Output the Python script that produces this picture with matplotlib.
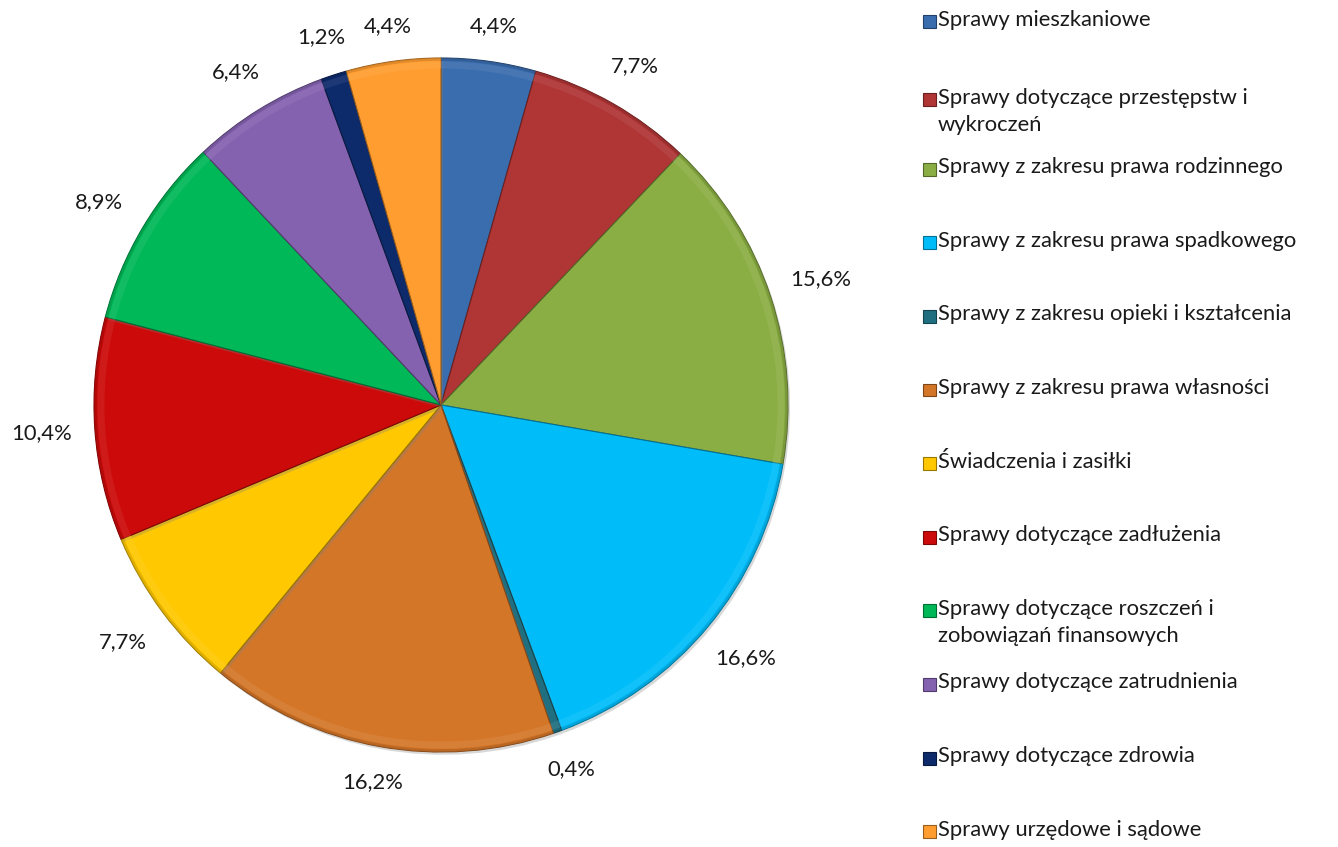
"""Pie chart of advice case categories with an Excel-style legend."""

import matplotlib

matplotlib.use("Agg")
import matplotlib.pyplot as plt
import matplotlib.patheffects as pe
import numpy as np
from matplotlib.colors import to_rgb
from matplotlib.patches import Rectangle, Wedge

CATEGORIES = [
    "Sprawy mieszkaniowe",
    "Sprawy dotyczące przestępstw i\nwykroczeń",
    "Sprawy z zakresu prawa rodzinnego",
    "Sprawy z zakresu prawa spadkowego",
    "Sprawy z zakresu opieki i kształcenia",
    "Sprawy z zakresu prawa własności",
    "Świadczenia i zasiłki",
    "Sprawy dotyczące zadłużenia",
    "Sprawy dotyczące roszczeń i\nzobowiązań finansowych",
    "Sprawy dotyczące zatrudnienia",
    "Sprawy dotyczące zdrowia",
    "Sprawy urzędowe i sądowe",
]
SHARES = [4.4, 7.7, 15.6, 16.6, 0.4, 16.2, 7.7, 10.4, 8.9, 6.4, 1.2, 4.4]
COLORS = [
    "#3A6DAE", "#B03535", "#8BAE44", "#00BDF9", "#1F6F80", "#D47628",
    "#FFC800", "#CC0A0A", "#00B857", "#8562B0", "#0D2A6B", "#FF9D30",
]

FONT = "Lato"
FONT_SIZE = 15.8

W, H = 1338, 847
CX, CY, R = 441, 442, 347  # pie centre (from bottom) and radius in pixels


def shade(color, factor):
    rgb = np.array(to_rgb(color))
    if factor < 1:
        return tuple(rgb * factor)
    return tuple(rgb + (1 - rgb) * (factor - 1))


fig = plt.figure(figsize=(W / 100, H / 100), dpi=100)
ax = fig.add_axes([0, 0, 1, 1])

wedges, _ = ax.pie(
    SHARES,
    colors=COLORS,
    startangle=90,
    counterclock=False,
    radius=1,
    wedgeprops=dict(linewidth=0.8),
)
for w, c in zip(wedges, COLORS):
    w.set_edgecolor(shade(c, 0.6))
    w.set_path_effects([
        pe.SimplePatchShadow(offset=(1.5, -2), shadow_rgbFace="0.5", alpha=0.3),
        pe.Normal(),
    ])
    # soft bevel along the rim
    ax.add_patch(Wedge((0, 0), 0.99, w.theta1, w.theta2, width=0.02,
                       facecolor=shade(c, 1.15), edgecolor="none", alpha=0.45))
    ax.add_patch(Wedge((0, 0), 1.0, w.theta1, w.theta2, width=0.008,
                       facecolor=shade(c, 0.8), edgecolor="none", alpha=0.6))

ax.set_xlim(-CX / R, (W - CX) / R)
ax.set_ylim(-CY / R, (H - CY) / R)
ax.set_aspect("equal")
ax.axis("off")

# percentage labels outside each wedge
for w, v in zip(wedges, SHARES):
    mid = np.deg2rad((w.theta1 + w.theta2) / 2)
    d = 1.095 + 0.06 * abs(np.cos(mid))
    ax.text(d * np.cos(mid), d * np.sin(mid), f"{v:.1f}%".replace(".", ","),
            ha="center", va="center", fontsize=FONT_SIZE, family=FONT,
            color="#1a1a1a")

# legend entries
step = 73.6
for i, (name, c) in enumerate(zip(CATEGORIES, COLORS)):
    y = H - (22 + i * step)
    if i == 1:
        y -= 4
    sq = 13
    fig.add_artist(Rectangle((923 / W, (y - sq / 2) / H), sq / W, sq / H,
                             transform=fig.transFigure, facecolor=c,
                             edgecolor=shade(c, 0.6), linewidth=0.8))
    fig.text(938 / W, (y + 12) / H, name, ha="left", va="top",
             fontsize=FONT_SIZE, family=FONT, color="#1a1a1a",
             linespacing=1.45)

fig.savefig("out.png", dpi=100)
